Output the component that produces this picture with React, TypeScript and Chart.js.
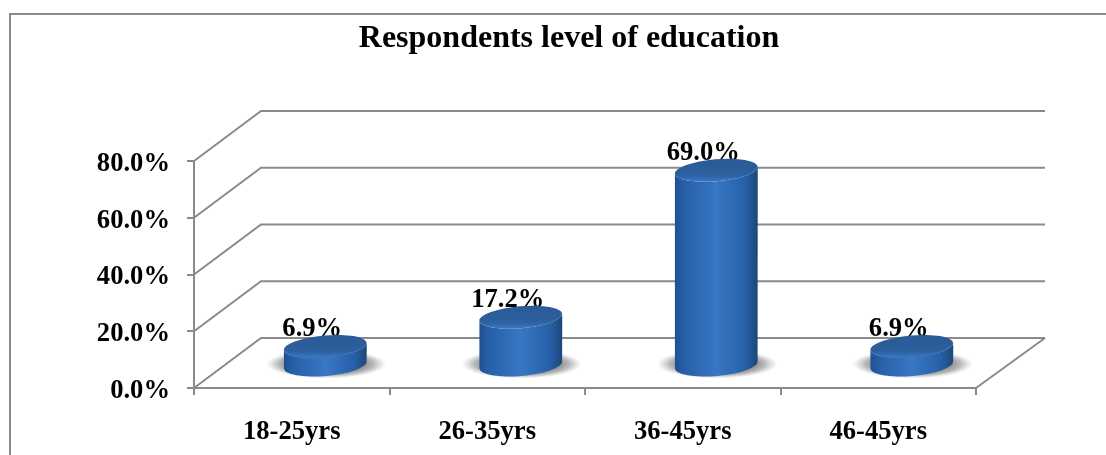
import React, { useEffect, useRef } from "react";
import { Chart, registerables } from "chart.js";

Chart.register(...registerables);

const categories = ["18-25yrs", "26-35yrs", "36-45yrs", "46-45yrs"];
const shares = [6.9, 17.2, 69.0, 6.9];
const yTicks = { min: 0, max: 80, step: 20 };

const AXIS = "#8a8a8a";
const FONT = '"Liberation Serif", "Times New Roman", serif';
const DEPTH = { x: 67, y: -50 };
const MID = { x: 33.5, y: -22 };
const LABEL_SIZE = 26.6;

const room = {
  id: "room",
  beforeDraw(chart: any) {
    const { ctx, width } = chart;
    ctx.save();
    ctx.fillStyle = "#ffffff";
    ctx.fillRect(0, 0, chart.width, chart.height);
    ctx.strokeStyle = AXIS;
    ctx.lineWidth = 2;
    ctx.beginPath();
    ctx.moveTo(10, chart.height);
    ctx.lineTo(10, 14);
    ctx.lineTo(width, 14);
    ctx.stroke();
    ctx.restore();
  },
  beforeDatasetsDraw(chart: any) {
    const { ctx, chartArea: a, scales } = chart;
    ctx.save();
    ctx.strokeStyle = AXIS;
    ctx.lineWidth = 2;
    scales.y.ticks.forEach((t: any) => {
      const y = scales.y.getPixelForValue(t.value);
      ctx.beginPath();
      ctx.moveTo(a.left, y);
      ctx.lineTo(a.left + DEPTH.x, y + DEPTH.y);
      ctx.lineTo(a.right + DEPTH.x + 2, y + DEPTH.y);
      ctx.stroke();
    });
    ctx.beginPath();
    ctx.moveTo(a.right, a.bottom);
    ctx.lineTo(a.right + DEPTH.x + 2, a.bottom + DEPTH.y);
    ctx.stroke();
    ctx.restore();
  },
};

const cylinders = {
  id: "cylinders",
  afterDatasetsDraw(chart: any) {
    const { ctx } = chart;
    const meta = chart.getDatasetMeta(0);
    const fmt = (v: number) => v.toFixed(1) + "%";
    ctx.save();
    meta.data.forEach((bar: any, i: number) => {
      const cx = bar.x + MID.x;
      const topY = bar.y + MID.y;
      const baseY = bar.base + MID.y;
      const rx = bar.width / 2;
      const ry = 11;
      const tilt = (-5 * Math.PI) / 180;

      // label sits behind the cap
      ctx.fillStyle = "#000000";
      ctx.font = `bold ${LABEL_SIZE}px ${FONT}`;
      ctx.textAlign = "center";
      ctx.textBaseline = "middle";
      ctx.fillText(fmt(shares[i]), cx - 13, topY - 17);

      // floor shadow
      ctx.save();
      ctx.translate(cx + 1, baseY - 1);
      ctx.scale(1, 0.24);
      const sr = rx + 19;
      const sh = ctx.createRadialGradient(0, 0, rx * 0.85, 0, 0, sr);
      sh.addColorStop(0, "rgba(100,100,100,0.8)");
      sh.addColorStop(0.5, "rgba(130,130,130,0.55)");
      sh.addColorStop(1, "rgba(170,170,170,0)");
      ctx.fillStyle = sh;
      ctx.beginPath();
      ctx.arc(0, 0, sr, 0, Math.PI * 2);
      ctx.fill();
      ctx.restore();

      // side wall
      const side = ctx.createLinearGradient(cx - rx, 0, cx + rx, 0);
      side.addColorStop(0, "#1f5090");
      side.addColorStop(0.12, "#2760a8");
      side.addColorStop(0.5, "#3877c4");
      side.addColorStop(0.85, "#2760a8");
      side.addColorStop(1, "#1c4679");
      ctx.fillStyle = side;
      ctx.beginPath();
      ctx.ellipse(cx, topY, rx, ry, tilt, Math.PI, 0, true);
      ctx.lineTo(cx + rx, topY);
      ctx.ellipse(cx, baseY, rx, ry, tilt, 0, Math.PI, false);
      ctx.closePath();
      ctx.fill();

      // cap
      const cap = ctx.createLinearGradient(0, topY - ry, 0, topY + ry);
      cap.addColorStop(0, "#2a5a96");
      cap.addColorStop(0.72, "#2d609f");
      cap.addColorStop(1, "#3877c4");
      ctx.fillStyle = cap;
      ctx.beginPath();
      ctx.ellipse(cx, topY, rx, ry, tilt, 0, Math.PI * 2);
      ctx.fill();
    });
    ctx.restore();
  },
};

export default function App() {
  const ref = useRef<HTMLCanvasElement | null>(null);
  useEffect(() => {
    document.body.style.margin = "0";
    const chart = new Chart(ref.current as HTMLCanvasElement, {
      type: "bar",
      data: {
        labels: categories,
        datasets: [
          {
            label: "Respondents",
            data: shares,
            backgroundColor: "rgba(0,0,0,0)",
            barPercentage: 0.4245,
            categoryPercentage: 1,
          },
        ],
      },
      plugins: [room, cylinders],
      options: {
        animation: false,
        responsive: false,
        layout: { padding: { left: 32, right: 0, top: 0, bottom: 0 } },
        plugins: {
          legend: { display: false },
          tooltip: { enabled: false },
          title: {
            display: true,
            text: "Respondents level of education",
            color: "#000000",
            font: { family: FONT, size: 32, weight: "bold" },
            padding: { top: 20, bottom: 102.6 },
          },
        },
        scales: {
          x: {
            afterFit: (s: any) => {
              s.height = 67;
            },
            grid: {
              drawOnChartArea: false,
              offset: true,
              color: AXIS,
              lineWidth: 2,
              tickLength: 7,
            },
            border: { color: AXIS, width: 2 },
            ticks: {
              color: "#000000",
              padding: 21,
              maxRotation: 0,
              font: { family: FONT, size: LABEL_SIZE, weight: "bold" },
            },
          },
          y: {
            min: yTicks.min,
            max: yTicks.max,
            afterFit: (s: any) => {
              s.width = 162;
            },
            grid: {
              drawOnChartArea: false,
              color: AXIS,
              lineWidth: 2,
              tickLength: 7,
            },
            border: { color: AXIS, width: 2 },
            ticks: {
              stepSize: yTicks.step,
              color: "#000000",
              padding: 17,
              labelOffset: 3,
              font: { family: FONT, size: LABEL_SIZE, weight: "bold" },
              callback: (v: any) => Number(v).toFixed(1) + "%",
            },
          },
          gutter: {
            axis: "y",
            position: "right",
            afterFit: (s: any) => {
              s.width = 130;
            },
            grid: { display: false },
            border: { display: false },
            ticks: { display: false },
          },
        },
      },
    } as any);
    return () => chart.destroy();
  }, []);
  return <canvas ref={ref} width={1106} height={455} style={{ display: "block" }} />;
}
